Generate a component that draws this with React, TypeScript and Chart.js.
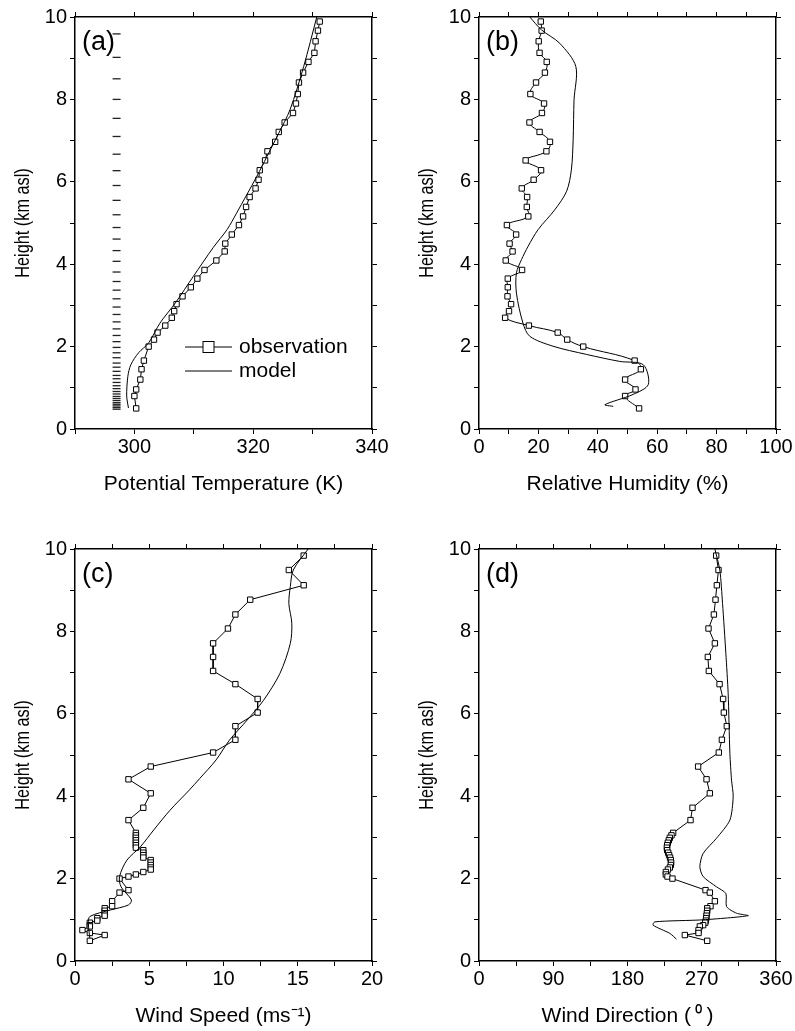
import React, { useEffect, useRef } from "react";
import { Chart, registerables } from "chart.js";

Chart.register(...registerables);

const FONT = "'Liberation Sans', Arial, Helvetica, sans-serif";

// ---------- model vertical levels (panel a dashes) ----------
const modelLevelHeights = [9.59, 9.02, 8.5, 8.0, 7.54, 7.1, 6.67, 6.27, 5.91, 5.55, 5.2, 4.89, 4.61, 4.33, 4.07, 3.81, 3.58, 3.37, 3.16, 2.96, 2.78, 2.6, 2.43, 2.27, 2.12, 1.98, 1.85, 1.73, 1.6, 1.5, 1.4, 1.3, 1.22, 1.13, 1.05, 0.98, 0.91, 0.85, 0.79, 0.74, 0.69, 0.64, 0.6, 0.56, 0.52, 0.48];
const modelLevelMarkerTheta = 297;

// ---------- radiosonde thermodynamic profile (panels a, b) ----------
const sondeHeight = [9.89, 9.67, 9.41, 9.13, 8.91, 8.65, 8.41, 8.13, 7.9, 7.67, 7.44, 7.21, 6.97, 6.74, 6.52, 6.28, 6.05, 5.84, 5.63, 5.39, 5.16, 4.95, 4.72, 4.5, 4.31, 4.09, 3.86, 3.65, 3.44, 3.22, 3.03, 2.86, 2.7, 2.51, 2.34, 2.17, 2.0, 1.66, 1.45, 1.2, 0.96, 0.8, 0.5];
const obsTheta = [331.2, 330.9, 330.5, 330.3, 329.3, 328.4, 327.7, 327.5, 327.2, 326.7, 325.3, 324.3, 323.7, 322.4, 322.0, 321.1, 320.9, 320.4, 319.4, 318.8, 318.3, 317.6, 316.4, 315.3, 315.2, 313.8, 311.8, 310.6, 309.5, 308.1, 307.1, 306.7, 306.3, 305.2, 303.9, 303.3, 302.4, 301.6, 301.2, 301.0, 300.3, 300.0, 300.3];
const obsRH = [20.8, 21.1, 20.1, 20.4, 22.8, 22.2, 19.2, 17.3, 21.9, 21.2, 17.0, 20.4, 23.9, 22.7, 15.7, 20.9, 18.4, 14.4, 16.2, 16.1, 16.6, 9.4, 12.5, 10.3, 11.3, 9.0, 14.5, 9.7, 9.7, 9.6, 10.8, 10.1, 8.8, 16.8, 26.5, 29.7, 35.1, 52.4, 54.5, 49.2, 52.7, 49.2, 53.9];

// ---------- model thermodynamic profile ----------
const modelThetaHeight = [10.0, 8.8, 7.75, 7.18, 6.61, 6.13, 5.24, 4.84, 4.41, 3.7, 3.06, 2.57, 2.09, 1.85, 1.56, 1.28, 0.8, 0.51];
const modelTheta = [330.7, 328.5, 326.2, 324.3, 322.3, 320.6, 317.2, 315.6, 313.3, 309.9, 306.9, 304.3, 302.4, 300.7, 299.4, 298.9, 298.7, 299.0];
const modelRHHeight = [10.0, 9.69, 9.36, 8.8, 7.99, 7.02, 6.29, 5.77, 5.32, 4.84, 4.43, 4.11, 3.79, 3.3, 2.57, 2.25, 2.01, 1.81, 1.64, 1.56, 1.08, 0.84, 0.59, 0.55];
const modelRH = [17.1, 21.0, 27.2, 32.6, 32.0, 31.7, 31.1, 29.5, 25.5, 19.9, 16.5, 14.3, 12.6, 12.6, 14.8, 17.1, 24.9, 36.2, 47.4, 55.3, 57.0, 51.9, 42.4, 45.2];

// ---------- wind observations (panels c, d) ----------
const windHeight = [9.84, 9.49, 9.12, 8.77, 8.41, 8.07, 7.71, 7.38, 7.04, 6.72, 6.36, 6.03, 5.7, 5.37, 5.06, 4.72, 4.41, 4.07, 3.72, 3.42,
  3.11, 3.05, 2.99, 2.93, 2.87, 2.81, 2.75, 2.69, 2.63, 2.57, 2.51, 2.45, 2.39, 2.33, 2.27, 2.22,
  2.16, 2.1, 2.05, 2.0, 1.72, 1.66, 1.45, 1.33,
  1.28, 1.22, 1.16, 1.1, 1.04, 0.98, 0.93, 0.87, 0.84, 0.75, 0.68, 0.63, 0.49];
const obsWindSpeed = [15.4, 14.4, 15.4, 11.8, 10.8, 10.3, 9.3, 9.3, 9.3, 10.8, 12.3, 12.3, 10.8, 10.8, 9.3, 5.1, 3.6, 5.1, 4.6, 3.6,
  4.1, 4.1, 4.1, 4.1, 4.1, 4.1, 4.1, 4.6, 4.6, 4.6, 4.6, 5.1, 5.1, 5.1, 5.1, 5.1,
  4.6, 4.1, 3.6, 3.0, 3.6, 3.0, 2.5, 2.5,
  2.0, 2.0, 2.0, 2.0, 1.5, 1.5, 1.0, 1.0, 1.0, 0.5, 1.0, 2.0, 1.0];
const obsWindDir = [287.5, 290.3, 288.3, 286.7, 284.7, 278.2, 285.9, 277.4, 278.6, 291.6, 295.9, 296.8, 300.4, 294.4, 290.7, 265.6, 275.8, 279.8, 258.8, 256.4,
  235.3, 233.3, 231.3, 230.1, 228.9, 228.1, 227.7, 228.1, 229.3, 230.4, 231.6, 232.5, 232.9, 232.5, 231.3, 229.0,
  226.5, 226.5, 228.5, 234.5, 274.6, 279.8, 285.9, 280.6,
  276.6, 276.6, 276.2, 275.8, 275.4, 275.0, 274.2, 271.7, 267.7, 266.1, 266.1, 249.5, 276.6];

// ---------- model wind ----------
const modelWSHeight = [10.0, 9.49, 9.09, 8.68, 8.2, 7.71, 6.98, 6.33, 5.85, 5.36, 4.88, 4.43, 4.15, 3.66, 3.18, 2.77, 2.45, 2.05, 1.8, 1.48, 1.36, 1.24, 1.08, 0.91, 0.55];
const modelWS = [15.7, 14.7, 14.5, 14.4, 14.6, 14.5, 13.8, 12.7, 11.6, 10.4, 9.5, 8.4, 7.7, 6.4, 5.3, 4.4, 3.5, 3.0, 3.1, 3.8, 3.6, 2.4, 1.0, 0.9, 1.0];
const modelWDHeight = [10.0, 9.49, 8.68, 7.47, 6.5, 5.04, 4.39, 3.99, 3.42, 2.98, 2.61, 2.29, 2.05, 1.8, 1.64, 1.32, 1.16, 1.1, 1.0, 0.95, 0.87, 0.67, 0.53];
const modelWD = [285.9, 291.9, 295.2, 299.2, 302.0, 304.1, 306.1, 308.1, 304.1, 287.9, 271.7, 267.7, 271.7, 287.9, 299.2, 300.1, 312.2, 326.3, 271.7, 213.1, 211.0, 231.3, 239.4];

// ---------- axes ----------
const heightRange = [0, 10];
const heightStep = 1;
const heightLabelStep = 2;
const heightTitle = "Height (km asl)";

type Area = { left: number; top: number; right: number; bottom: number };

type PanelSpec = {
  id: string;
  label: string;
  left: number;
  top: number;
  w: number;
  h: number;
  area: Area;
  xMin: number;
  xMax: number;
  xStep: number;
  xLabelFn: (v: number) => string;
  xTitle: string;
  datasets: any[];
  legend: boolean;
};

const pts = (xs: number[], ys: number[]) => xs.map((x, i) => ({ x, y: ys[i] }));

const obsStyle = (tension: number) => ({
  showLine: true,
  borderColor: "#000",
  borderWidth: 1,
  tension,
  pointStyle: "rect",
  pointRadius: 3.8,
  pointBorderWidth: 1,
  pointBorderColor: "#000",
  pointBackgroundColor: "#fff",
});

const modelStyle = (tension: number) => ({
  showLine: true,
  borderColor: "#000",
  borderWidth: 1,
  tension,
  pointRadius: 0,
});

const TICK_FONT = 20;
const TITLE_FONT = 21;
const TITLE_LH = TITLE_FONT * 1.2;

const annotatePlugin = (label: string, legend: boolean) => ({
  id: "annotate",
  afterDraw(chart: any) {
    const { ctx, chartArea: a } = chart;
    ctx.save();
    ctx.fillStyle = "#000";
    ctx.textBaseline = "middle";
    ctx.textAlign = "left";
    ctx.font = `27px ${FONT}`;
    ctx.fillText(label, a.left + 7, a.top + 26);

    // y-axis title (condensed along its writing direction, as in the original)
    ctx.save();
    ctx.translate(a.left - 52, (a.top + a.bottom) / 2);
    ctx.rotate(-Math.PI / 2);
    ctx.scale(0.775, 1);
    ctx.textAlign = "center";
    ctx.font = `${TITLE_FONT}px ${FONT}`;
    ctx.fillText(heightTitle, 0, 0);
    ctx.restore();

    if (legend) {
      const x0 = a.left + 110;
      const x1 = a.left + 157;
      const y0 = a.top + 330;
      const y1 = y0 + 24;
      ctx.strokeStyle = "#000";
      ctx.lineWidth = 1;
      ctx.beginPath();
      ctx.moveTo(x0, y0);
      ctx.lineTo(x1, y0);
      ctx.moveTo(x0, y1);
      ctx.lineTo(x1, y1);
      ctx.stroke();
      const cx = (x0 + x1) / 2;
      ctx.fillStyle = "#fff";
      ctx.fillRect(cx - 5.5, y0 - 5.5, 11, 11);
      ctx.strokeRect(cx - 5.5, y0 - 5.5, 11, 11);
      ctx.fillStyle = "#000";
      ctx.textAlign = "left";
      ctx.font = `21px ${FONT}`;
      ctx.fillText("observation", a.left + 164, y0);
      ctx.fillText("model", a.left + 164, y1);
    }
    ctx.restore();
  },
});

function buildConfig(p: PanelSpec): any {
  const a = p.area;
  const grid = {
    drawOnChartArea: false,
    drawTicks: true,
    tickLength: 5,
    color: "#000",
    lineWidth: 1,
  };
  const border = { display: true, color: "#000", width: 1.5 };
  return {
    type: "scatter",
    data: { datasets: p.datasets },
    options: {
      animation: false,
      responsive: false,
      maintainAspectRatio: false,
      events: [],
      layout: { padding: 0 },
      plugins: { legend: { display: false }, tooltip: { enabled: false } },
      scales: {
        x: {
          type: "linear",
          position: "bottom",
          min: p.xMin,
          max: p.xMax,
          ticks: {
            stepSize: p.xStep,
            autoSkip: false,
            maxRotation: 0,
            padding: 1,
            color: "#000",
            font: { family: FONT, size: TICK_FONT },
            callback: (v: number) => p.xLabelFn(v),
          },
          grid,
          border,
          title: {
            display: true,
            text: p.xTitle,
            color: "#000",
            font: { family: FONT, size: TITLE_FONT },
            padding: { top: 0, bottom: p.h - (a.bottom + 55) - TITLE_LH / 2 },
          },
          afterFit: (s: any) => {
            s.height = p.h - a.bottom;
          },
        },
        x2: {
          type: "linear",
          position: "top",
          min: p.xMin,
          max: p.xMax,
          ticks: { stepSize: p.xStep, autoSkip: false, display: false },
          grid,
          border,
          afterFit: (s: any) => {
            s.height = a.top;
          },
        },
        y: {
          type: "linear",
          position: "left",
          min: heightRange[0],
          max: heightRange[1],
          ticks: {
            stepSize: heightStep,
            autoSkip: false,
            padding: 3,
            color: "#000",
            font: { family: FONT, size: TICK_FONT },
            callback: (v: number) => (v % heightLabelStep === 0 ? String(v) : ""),
          },
          grid,
          border,
          title: { display: false },
          afterFit: (s: any) => {
            s.width = a.left;
          },
        },
        y2: {
          type: "linear",
          position: "right",
          min: heightRange[0],
          max: heightRange[1],
          ticks: { stepSize: heightStep, autoSkip: false, display: false },
          grid,
          border,
          afterFit: (s: any) => {
            s.width = p.w - a.right;
          },
        },
      },
    },
    plugins: [annotatePlugin(p.label, p.legend)],
  };
}

const panels: PanelSpec[] = [
  {
    id: "a",
    label: "(a)",
    left: 0,
    top: 0,
    w: 397,
    h: 520,
    area: { left: 75, top: 17, right: 372, bottom: 429 },
    xMin: 290,
    xMax: 340,
    xStep: 10,
    xLabelFn: (v) => (v >= 300 && (v - 300) % 20 === 0 ? String(v) : ""),
    xTitle: "Potential Temperature (K)",
    legend: true,
    datasets: [
      {
        data: modelLevelHeights.map((h) => ({ x: modelLevelMarkerTheta, y: h })),
        showLine: false,
        pointStyle: "line",
        pointRadius: 4,
        pointBorderWidth: 1.3,
        pointBorderColor: "#222",
      },
      { data: pts(modelTheta, modelThetaHeight), ...modelStyle(0.3) },
      { data: pts(obsTheta, sondeHeight), ...obsStyle(0) },
    ],
  },
  {
    id: "b",
    label: "(b)",
    left: 397,
    top: 0,
    w: 398,
    h: 520,
    area: { left: 82, top: 17, right: 379, bottom: 429 },
    xMin: 0,
    xMax: 100,
    xStep: 10,
    xLabelFn: (v) => (v % 20 === 0 ? String(v) : ""),
    xTitle: "Relative Humidity (%)",
    legend: false,
    datasets: [
      { data: pts(modelRH, modelRHHeight), ...modelStyle(0.3) },
      { data: pts(obsRH, sondeHeight), ...obsStyle(0.4) },
    ],
  },
  {
    id: "c",
    label: "(c)",
    left: 0,
    top: 520,
    w: 397,
    h: 511,
    area: { left: 75, top: 29, right: 372, bottom: 441 },
    xMin: 0,
    xMax: 20,
    xStep: 2.5,
    xLabelFn: (v) => (v % 5 === 0 ? String(v) : ""),
    xTitle: "Wind Speed (ms\u207B\u00B9)",
    legend: false,
    datasets: [
      { data: pts(modelWS, modelWSHeight), ...modelStyle(0.3) },
      { data: pts(obsWindSpeed, windHeight), ...obsStyle(0) },
    ],
  },
  {
    id: "d",
    label: "(d)",
    left: 397,
    top: 520,
    w: 398,
    h: 511,
    area: { left: 82, top: 29, right: 379, bottom: 441 },
    xMin: 0,
    xMax: 360,
    xStep: 45,
    xLabelFn: (v) => (v % 90 === 0 ? String(v) : ""),
    xTitle: "Wind Direction (\u2009\u2070\u2009)",
    legend: false,
    datasets: [
      { data: pts(modelWD, modelWDHeight), ...modelStyle(0.25) },
      { data: pts(obsWindDir, windHeight), ...obsStyle(0) },
    ],
  },
];

function Panel({ spec }: { spec: PanelSpec }) {
  const ref = useRef<HTMLCanvasElement | null>(null);
  useEffect(() => {
    if (!ref.current) return;
    const chart = new Chart(ref.current, buildConfig(spec));
    return () => chart.destroy();
  }, [spec]);
  return (
    <canvas
      ref={ref}
      width={spec.w}
      height={spec.h}
      style={{ position: "absolute", left: spec.left, top: spec.top, width: spec.w, height: spec.h }}
    />
  );
}

export default function App() {
  return (
    <div style={{ position: "absolute", left: 0, top: 0, width: 795, height: 1031, background: "#fff" }}>
      {panels.map((p) => (
        <Panel key={p.id} spec={p} />
      ))}
    </div>
  );
}
